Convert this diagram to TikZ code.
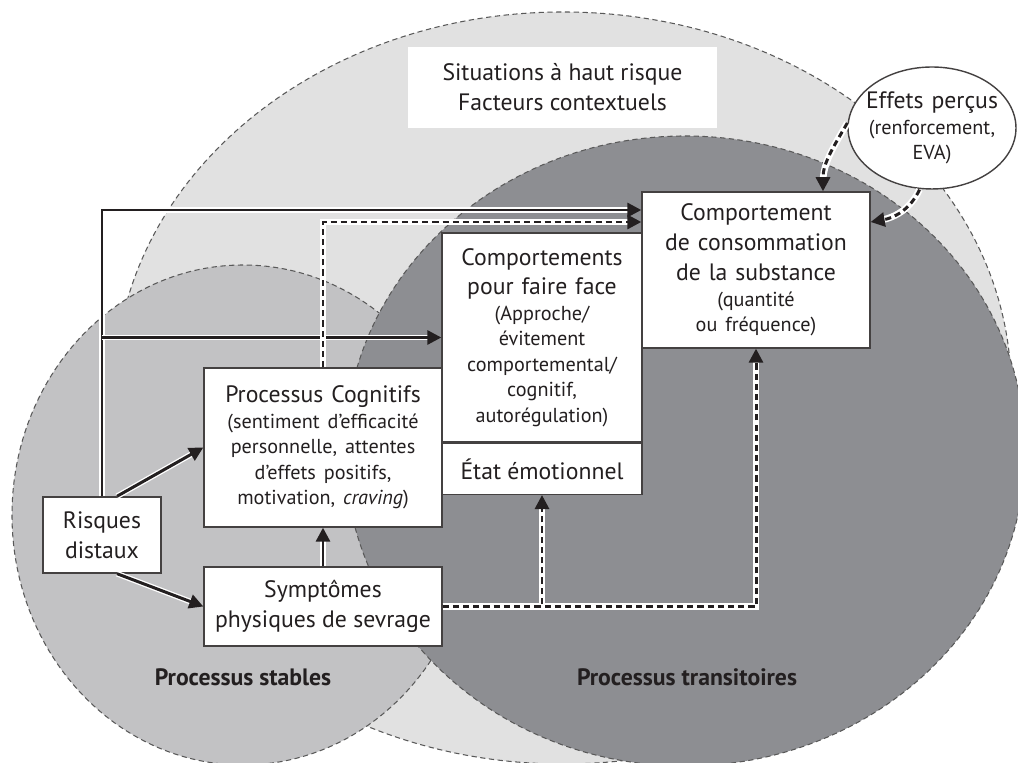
\documentclass[tikz,border=0pt]{standalone}
\usepackage{fontspec}
\setmainfont{PT Sans}
\usetikzlibrary{shapes.geometric, arrows.meta, positioning}
\definecolor{zonelight}{RGB}{225,225,225}
\definecolor{zonemid}{RGB}{194,194,196}
\definecolor{zonedark}{RGB}{141,142,146}
\definecolor{ink}{RGB}{35,31,32}
\newcommand{\grand}{\fontsize{13.5}{17}\selectfont}
\newcommand{\petit}{\fontsize{11.5}{14.5}\selectfont}

\begin{document}
\begin{tikzpicture}[x=0.02cm, y=0.02cm, font=\grand, text=ink]
\useasboundingbox (0,0) rectangle (1018,763);
\clip (0,0) rectangle (1018,763);
% the three zones
\begin{scope}[zone/.style={draw=black!65, dash pattern=on 3pt off 2pt, line width=0.6pt}]
    \path[zone, fill=zonelight] (563,375) ellipse [x radius=448, y radius=376];
    \path[zone, fill=zonemid] (243,248) ellipse [x radius=231, y radius=250];
    \path[zone, fill=zonedark] (685,312) ellipse [x radius=340, y radius=315];
\end{scope}

\begin{scope}[every node/.style={shape=rectangle,
    draw=ink!85, fill=white, line width=0.8pt, align=center, inner sep=0pt}]
    \node[draw=none, minimum width=6.18cm, minimum height=1.62cm] (situations) at (562.5,675.5) {Situations à haut risque\\Facteurs contextuels};
    \node[minimum width=2.36cm, minimum height=1.52cm] (risques) at (102,228) {Risques\\distaux};
    \node[minimum width=4.76cm, minimum height=3.18cm, text width=4.6cm] (cognitifs) at (323,315.5) {Processus Cognitifs\par
        \petit (sentiment d’efficacité\\personnelle, attentes\\d’effets positifs,\\motivation, \emph{craving})\par};
    \node[minimum width=4.76cm, minimum height=1.58cm] (symptomes) at (323,156.5) {Symptômes\\physiques de sevrage};
    \node[minimum width=4cm, minimum height=4.18cm, text width=3.9cm] (coping) at (542,425.5) {Comportements\\pour faire face\par
        \petit (Approche/\\évitement\\comportemental/\\cognitif,\\autorégulation)\par};
    \node[minimum width=4cm, minimum height=1.02cm, below=0pt of coping] (etat) {État émotionnel};
    \node[minimum width=4.56cm, minimum height=3.12cm, text width=4.4cm] (conso) at (756,493) {Comportement\\de consommation\\de la substance\par
        \petit (quantité\\ou fréquence)\par};
    \node[shape=ellipse, minimum width=3.36cm, minimum height=2.44cm, text width=2.8cm,
        inner xsep=-0.5cm, inner ysep=-0.2cm] (effets) at (932,635) {Effets perçus\par
        \petit (renforcement,\\EVA)\par};
\end{scope}

\node[font=\grand\bfseries] (stables) at (243,86) {Processus stables};
\node[font=\grand\bfseries] (transitoires) at (687,86) {Processus transitoires};

\begin{scope}[
    solidarrow/.style={draw=ink, line width=1.7pt, -{Triangle[length=8pt,width=8pt]},
        preaction={draw=white, line width=3.2pt, -, shorten >=5pt}},
    dasharrow/.style={draw=ink, line width=1.7pt, dash pattern=on 3.5pt off 2.3pt,
        -{Triangle[length=8pt,width=8pt]},
        preaction={draw=white, line width=3.8pt, solid, -, shorten >=5pt}}
    ]
    \draw[solidarrow] (risques.north) |- ([yshift=1.2cm]conso.west);
    \draw[solidarrow] (risques.north |- coping.west) -- (coping.west);
    \draw[dasharrow] (cognitifs.north) |- ([yshift=0.96cm]conso.west);
    \draw[solidarrow] ([xshift=0.3cm]risques.north) -- (cognitifs.west);
    \draw[solidarrow] ([xshift=0.3cm]risques.south) -- (symptomes.west);
    \draw[solidarrow] (symptomes.north) -- (cognitifs.south);
    \draw[dasharrow] (symptomes.east) -| (conso.south);
    \draw[dasharrow] (symptomes.east) -| (etat.south);
    \draw[dasharrow] ([yshift=0.1cm]effets.west) to[out=240, in=90] ([xshift=1.34cm]conso.north);
    \draw[dasharrow] ([xshift=-0.25cm]effets.south) to[out=245, in=10] ([yshift=0.96cm]conso.east);
\end{scope}
\end{tikzpicture}
\end{document}
